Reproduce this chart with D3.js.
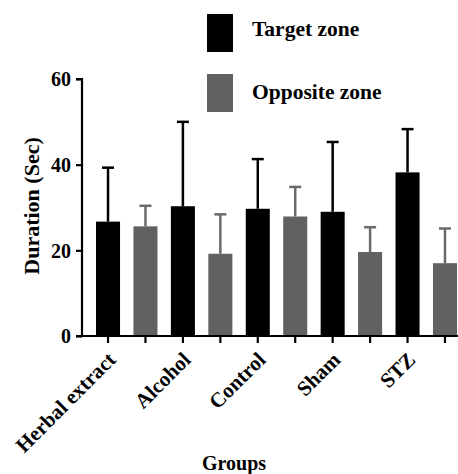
<!DOCTYPE html>
<html><head><meta charset="utf-8">
<script src="https://cdn.jsdelivr.net/npm/d3@7"></script>
<style>body{margin:0;background:#fff}svg{display:block}</style>
</head><body><svg id="c" width="458" height="474"></svg>
<script>
const groups = ["Herbal extract","Alcohol","Control","Sham","STZ"];
const seriesNames = ["Target zone","Opposite zone"];
const targetMean = [26.7, 30.3, 29.7, 29.0, 38.2];
const targetErr  = [12.6, 19.7, 11.6, 16.3, 10.1];
const oppositeMean = [25.6, 19.2, 27.9, 19.6, 17.0];
const oppositeErr  = [4.8, 9.2, 6.9, 5.8, 8.1];
const yTicks = [0, 20, 40, 60];

const colors = ["#000000", "#616161"];
const errColors = ["#000000", "#6a6a6a"];
const FONT = '"Liberation Serif"';

const svg = d3.select("#c");
const mLeft = 82, mRight = 463, mTop = 79, mBottom = 336;

function txt(sel, size) {
  return sel.style("font-family", FONT).style("font-weight", "bold").style("font-size", size + "px").attr("fill", "#000");
}

const slots = [];
groups.forEach((g, gi) => {
  slots.push({g, s: 0, v: targetMean[gi], e: targetErr[gi]});
  slots.push({g, s: 1, v: oppositeMean[gi], e: oppositeErr[gi]});
});
const x = d3.scaleBand().domain(d3.range(slots.length)).range([96, 457]).paddingInner(0.358).paddingOuter(0);
const y = d3.scaleLinear().domain([0, 60]).range([mBottom, mTop]);

svg.selectAll("rect.bar").data(slots).join("rect")
  .attr("x", (d, i) => x(i)).attr("width", x.bandwidth())
  .attr("y", d => y(d.v)).attr("height", d => y(0) - y(d.v))
  .attr("fill", d => colors[d.s]);

const cap = 12;
const eg = svg.append("g");
slots.forEach((d, i) => {
  const cx = x(i) + x.bandwidth() / 2;
  eg.append("line").attr("x1", cx).attr("x2", cx).attr("y1", y(d.v)).attr("y2", y(d.v + d.e))
    .attr("stroke", errColors[d.s]).attr("stroke-width", 2.5);
  eg.append("line").attr("x1", cx - cap / 2).attr("x2", cx + cap / 2).attr("y1", y(d.v + d.e)).attr("y2", y(d.v + d.e))
    .attr("stroke", errColors[d.s]).attr("stroke-width", 2.5);
});

const yAxis = d3.axisLeft(y).tickValues(yTicks).tickSize(6).tickPadding(5);
const gy = svg.append("g").attr("transform", `translate(${mLeft},0)`).call(yAxis);
gy.select(".domain").attr("stroke-width", 2.2).attr("d", `M-6,${mTop}H0V${mBottom}`);
gy.selectAll(".tick line").attr("stroke-width", 2.2);
txt(gy.selectAll(".tick text"), 20).attr("dy", "0.34em");

const xAxis = d3.axisBottom(x).tickSize(7).tickFormat("");
const gx = svg.append("g").attr("transform", `translate(0,${mBottom})`).call(xAxis);
gx.select(".domain").attr("stroke-width", 2.2).attr("d", `M${mLeft - 6},0H${mRight}`);
gx.selectAll(".tick line").attr("stroke-width", 2.2);

txt(svg.append("g").selectAll("text").data(groups).join("text")
  .attr("transform", (g, gi) => `translate(${x(gi * 2) + x.bandwidth() / 2 + 9},361) rotate(-45)`)
  .attr("text-anchor", "end"), 21).text(g => g);

txt(svg.append("text").attr("transform", `translate(39,206) rotate(-90)`).attr("text-anchor", "middle"), 22)
  .text("Duration (Sec)");
txt(svg.append("text").attr("x", 234).attr("y", 470).attr("text-anchor", "middle"), 20).text("Groups");

const lg = svg.append("g");
seriesNames.forEach((n, i) => {
  lg.append("rect").attr("x", 207).attr("y", 14 + i * 60).attr("width", 26).attr("height", 38).attr("fill", colors[i]);
  txt(lg.append("text").attr("x", 252).attr("y", 36 + i * 63), 21.5).text(n);
});
</script></body></html>
